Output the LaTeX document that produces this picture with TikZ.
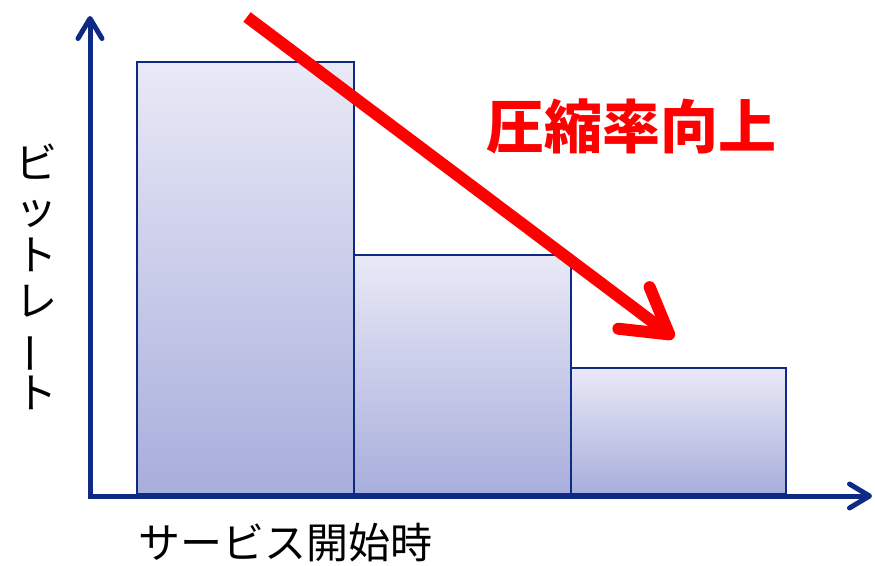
\documentclass[tikz,border=0pt]{standalone}
\usepackage{fontspec}
\usepackage{graphicx}
\usetikzlibrary{arrows.meta}
\newfontfamily\jpfont{Noto Sans CJK JP}
\definecolor{bleuaxe}{RGB}{14,42,132}
\definecolor{hautbarre}{RGB}{233,233,246}
\definecolor{basbarre}{RGB}{168,174,220}

\begin{document}
\begin{tikzpicture}[x=1pt, y=-1pt]
\tikzset{barre/.style={draw=bleuaxe, line width=1.8pt, top color=hautbarre, bottom color=basbarre},
  axe/.style={draw=bleuaxe, line width=5pt, -{Straight Barb[round, length=20pt, width=24pt]}},
  fleche/.style={draw=red, line width=12pt, -{Straight Barb[round, length=44pt, width=52pt]}},
  etiquette/.style={font=\jpfont\fontsize{42}{46}\selectfont, inner sep=0pt}}
\useasboundingbox (0, 0) rectangle (875, 565);
\draw[barre] (137, 62) rectangle (354, 494);
\draw[barre] (354, 255) rectangle (571, 494);
\draw[barre] (571, 368) rectangle (786, 494);
\coordinate (O) at (90, 496);
\coordinate (Y) at (90, 16);
\coordinate (X) at (872, 496);
\coordinate (D) at (247, 17);
\coordinate (F) at (674, 338);
\draw[axe] ([yshift=-2.5pt]O) -- (Y);
\draw[axe] ([xshift=-2.5pt]O) -- (X);
\draw[fleche] (D) -- (F);
\node[etiquette, text=red, font=\jpfont\bfseries\fontsize{58}{60}\selectfont] (gain) at (631, 126) {圧縮率向上};
\node[etiquette, align=center] (debit) at (37, 277) {ビ\\ッ\\ト\\レ\\\rotatebox[origin=c]{90}{ー}\\ト};
\node[etiquette] (service) at (285, 543) {サービス開始時};
\end{tikzpicture}
\end{document}
